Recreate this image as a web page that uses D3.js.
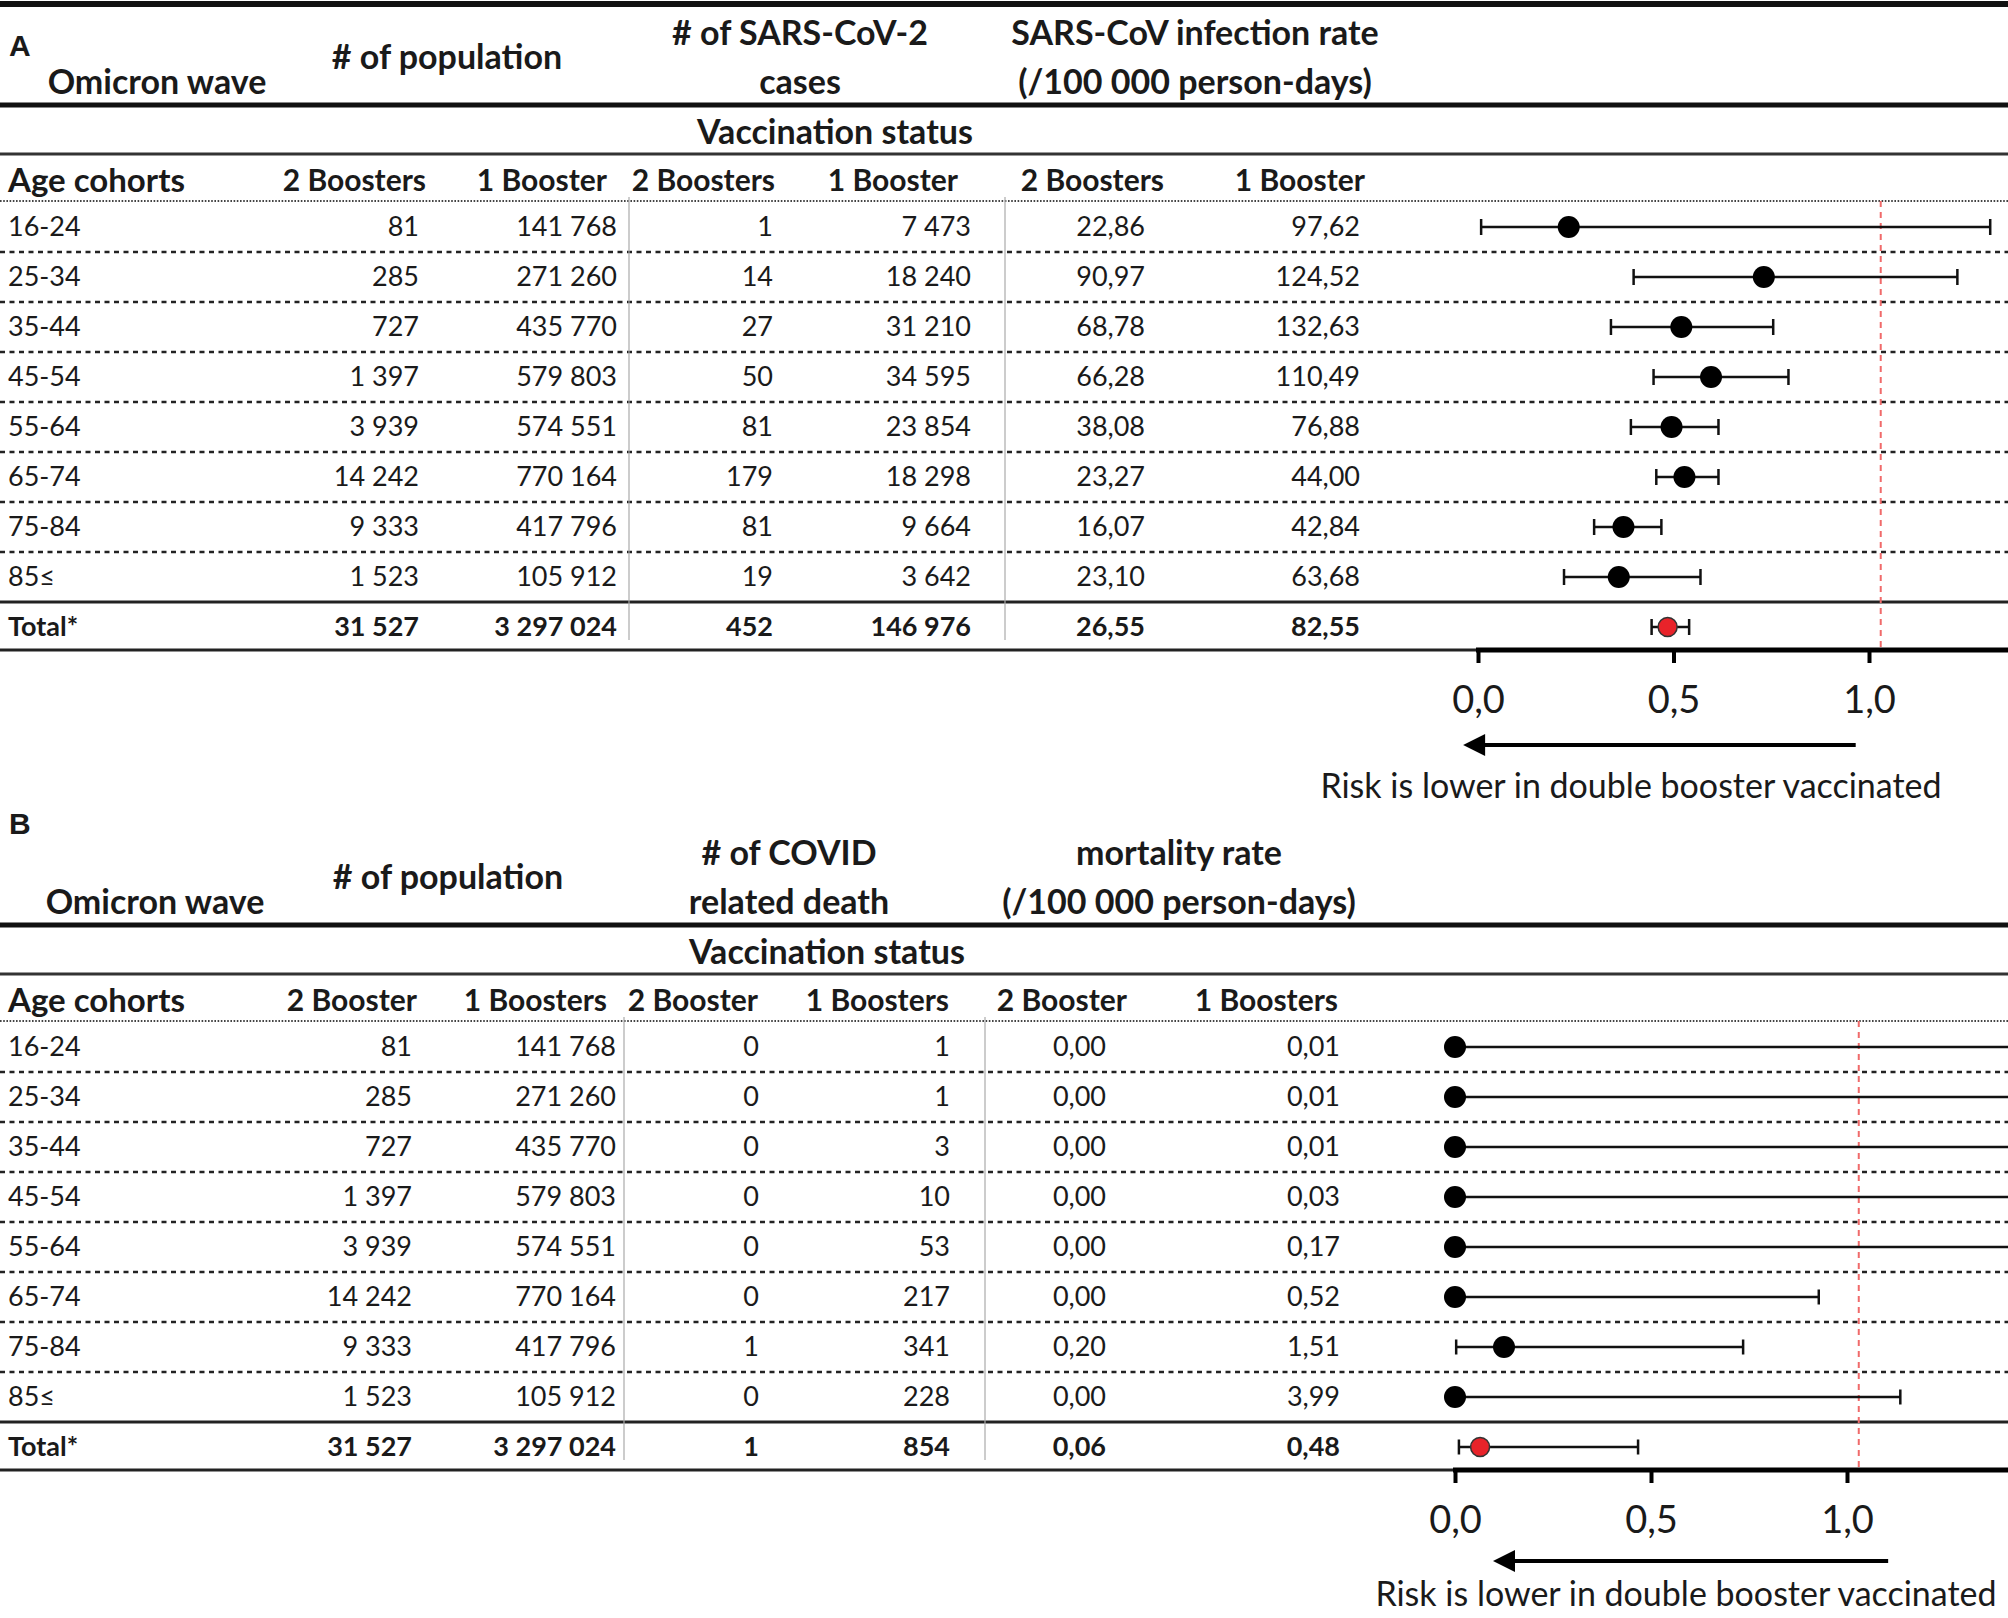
<!DOCTYPE html>
<html><head><meta charset="utf-8">
<script src="https://cdn.jsdelivr.net/npm/d3@7"></script>
<style>
html,body{margin:0;padding:0;background:#fff;}
svg{display:block;}
text{font-family:Lato,"Open Sans",sans-serif;fill:#1a1a1a;}
</style></head><body>
<svg id="chart" width="2008" height="1618"></svg>
<script>
// ---------------- DATA ----------------
const ageCohorts = ["16-24","25-34","35-44","45-54","55-64","65-74","75-84","85≤"];
const totalLabel = "Total*";

// Panel A – infections
const popTwoBoosters = [81,285,727,1397,3939,14242,9333,1523];
const popTwoBoostersTotal = 31527;
const popOneBooster = [141768,271260,435770,579803,574551,770164,417796,105912];
const popOneBoosterTotal = 3297024;
const casesTwoBoosters = [1,14,27,50,81,179,81,19];
const casesTwoBoostersTotal = 452;
const casesOneBooster = [7473,18240,31210,34595,23854,18298,9664,3642];
const casesOneBoosterTotal = 146976;
const infRateTwoBoosters = [22.86,90.97,68.78,66.28,38.08,23.27,16.07,23.10];
const infRateTwoBoostersTotal = 26.55;
const infRateOneBooster = [97.62,124.52,132.63,110.49,76.88,44.00,42.84,63.68];
const infRateOneBoosterTotal = 82.55;
const infEstimate = [0.232,0.731,0.520,0.596,0.495,0.528,0.372,0.360];
const infLower    = [0.008,0.398,0.340,0.449,0.391,0.456,0.297,0.220];
const infUpper    = [1.310,1.226,0.755,0.794,0.615,0.615,0.469,0.569];
const infTotal = {est:0.485, lo:0.444, hi:0.540};

// Panel B – deaths
const deathsTwoBoosters = [0,0,0,0,0,0,1,0];
const deathsTwoBoostersTotal = 1;
const deathsOneBooster = [1,1,3,10,53,217,341,228];
const deathsOneBoosterTotal = 854;
const mortTwoBoosters = [0,0,0,0,0,0,0.20,0];
const mortTwoBoostersTotal = 0.06;
const mortOneBooster = [0.01,0.01,0.01,0.03,0.17,0.52,1.51,3.99];
const mortOneBoosterTotal = 0.48;
const mortEstimate = [0,0,0,0,0,0,0.125,0];
const mortLower    = [0,0,0,0,0,0,0.003,0];
const mortUpper    = [2.5,2.5,2.5,2.5,2.5,0.928,0.735,1.136];
const mortTotal = {est:0.064, lo:0.010, hi:0.467};

const axisTicks = [0,0.5,1.0];
const referenceValue = 1.03;

// ---------------- HELPERS ----------------
const loc = d3.formatLocale({decimal:",", thousands:" ", grouping:[3], currency:["",""]});
const fmtInt = loc.format(",d");
const fmtDec = loc.format(",.2f");
const fmtTick = loc.format(".1f");

const svg = d3.select("#chart");

function panel(cfg){
  const g = svg.append("g").attr("transform",`translate(0,${cfg.dy})`);
  const W = 2008;
  const rowsAll = ageCohorts.concat([totalLabel]);
  const y = d3.scalePoint().domain(rowsAll).range([227,627]);
  const x = d3.scaleLinear().domain([0,1]).range(cfg.xRange);

  // panel letter
  g.append("text").attr("x",9).attr("y",cfg.letterY).attr("dy","0.35em")
    .style("font-family","'Liberation Sans',Arial,sans-serif").style("font-weight","bold")
    .style("font-size","30px").text(cfg.letter);

  if(cfg.topLine) g.append("line").attr("x1",0).attr("x2",W).attr("y1",4).attr("y2",4)
    .attr("stroke","#111").attr("stroke-width",6);

  // top headers
  cfg.topHeaders.forEach(h=>{
    h.lines.forEach((t,i)=>{
      g.append("text").attr("x",h.cx).attr("y",h.ys[i]).attr("dy","0.35em")
       .attr("text-anchor","middle").style("font-weight","bold").style("font-size","34px").text(t);
    });
  });
  g.append("line").attr("x1",0).attr("x2",W).attr("y1",105).attr("y2",105).attr("stroke","#111").attr("stroke-width",5);
  g.append("text").attr("x",cfg.vaccCx).attr("y",132).attr("dy","0.35em").attr("text-anchor","middle")
    .style("font-weight","bold").style("font-size","34px").text("Vaccination status");
  g.append("line").attr("x1",0).attr("x2",W).attr("y1",154).attr("y2",154).attr("stroke","#333").attr("stroke-width",3);

  // sub headers
  g.append("text").attr("x",8).attr("y",180).attr("dy","0.35em").style("font-weight","bold")
    .style("font-size","33px").text("Age cohorts");
  cfg.subHeaders.forEach((t,i)=>{
    g.append("text").attr("x",cfg.subHeaderRight[i]).attr("y",180).attr("dy","0.35em")
     .attr("text-anchor","end").style("font-weight","bold").style("font-size","30px").text(t);
  });
  g.append("line").attr("x1",0).attr("x2",W).attr("y1",201).attr("y2",201)
    .attr("stroke","#444").attr("stroke-width",2).attr("stroke-dasharray","1.6,1.6");

  // row separators
  const seps = d3.range(ageCohorts.length-1).map(i=>(y(ageCohorts[i])+y(ageCohorts[i+1]))/2);
  g.selectAll(".sep").data(seps).enter().append("line")
    .attr("x1",0).attr("x2",W).attr("y1",d=>d).attr("y2",d=>d)
    .attr("stroke","#222").attr("stroke-width",2.5).attr("stroke-dasharray","5,4.5");
  const preTotal = (y(ageCohorts[ageCohorts.length-1])+y(totalLabel))/2;
  g.append("line").attr("x1",0).attr("x2",W).attr("y1",preTotal).attr("y2",preTotal).attr("stroke","#222").attr("stroke-width",3);
  const bottom = y(totalLabel)+23;
  g.append("line").attr("x1",0).attr("x2",W).attr("y1",bottom).attr("y2",bottom).attr("stroke","#222").attr("stroke-width",3);

  // vertical separators
  cfg.vlines.forEach(vx=>{
    g.append("line").attr("x1",vx).attr("x2",vx).attr("y1",197).attr("y2",bottom-10)
      .attr("stroke","#aaa").attr("stroke-width",1.2);
  });

  // table cells
  rowsAll.forEach((r,ri)=>{
    const isTot = r===totalLabel;
    g.append("text").attr("x",8).attr("y",y(r)).attr("dy","0.35em")
      .style("font-size","27px").style("font-weight",isTot?"bold":"normal").text(r);
    cfg.columns.forEach((col,ci)=>{
      const v = isTot ? col.total : col.values[ri];
      g.append("text").attr("x",cfg.colRight[ci]).attr("y",y(r)).attr("dy","0.35em")
        .attr("text-anchor","end").style("font-size","27px").style("font-weight",isTot?"bold":"normal")
        .text(col.fmt(v));
    });
  });

  // reference line
  g.append("line").attr("x1",x(referenceValue)).attr("x2",x(referenceValue))
    .attr("y1",201).attr("y2",bottom).attr("stroke","#f06a6a").attr("stroke-width",2).attr("stroke-dasharray","6,5");

  // forest plot
  const pts = ageCohorts.map((a,i)=>({row:a, est:cfg.est[i], lo:cfg.lo[i], hi:cfg.hi[i], tot:false}))
    .concat([{row:totalLabel, est:cfg.total.est, lo:cfg.total.lo, hi:cfg.total.hi, tot:true}]);
  const fg = g.append("g");
  fg.selectAll(".ci").data(pts).enter().append("line")
    .attr("x1",d=>x(d.lo)).attr("x2",d=>x(d.hi)).attr("y1",d=>y(d.row)).attr("y2",d=>y(d.row))
    .attr("stroke","#111").attr("stroke-width",2.5);
  ["lo","hi"].forEach(k=>{
    fg.selectAll(".cap"+k).data(pts).enter().append("line")
      .attr("x1",d=>x(d[k])).attr("x2",d=>x(d[k]))
      .attr("y1",d=>y(d.row)-cfg.capH).attr("y2",d=>y(d.row)+cfg.capH)
      .attr("stroke","#111").attr("stroke-width",2.5);
  });
  fg.selectAll(".pt").data(pts).enter().append("circle")
    .attr("cx",d=>x(d.est)).attr("cy",d=>y(d.row)).attr("r",d=>d.tot?9.5:11)
    .attr("fill",d=>d.tot?"#e8232a":"#000").attr("stroke",d=>d.tot?"#333":"none").attr("stroke-width",1.5);

  // axis
  g.append("line").attr("x1",x(0)-2).attr("x2",W).attr("y1",bottom).attr("y2",bottom)
    .attr("stroke","#000").attr("stroke-width",5);
  const axis = d3.axisBottom(x).tickValues(axisTicks).tickSize(13).tickPadding(23).tickFormat(d=>fmtTick(d));
  const ag = g.append("g").attr("transform",`translate(0,${bottom})`).call(axis);
  ag.select(".domain").remove();
  ag.selectAll(".tick line").attr("stroke","#000").attr("stroke-width",4);
  ag.selectAll(".tick text").style("font-family","Lato,sans-serif").style("font-size","38px").attr("fill","#222");

  // arrow
  const ay = cfg.arrowY;
  g.append("line").attr("x1",x(cfg.arrow[0])).attr("x2",x(cfg.arrow[1])+18).attr("y1",ay).attr("y2",ay)
    .attr("stroke","#000").attr("stroke-width",4);
  const tip = x(cfg.arrow[1]);
  g.append("path").attr("d",`M${tip},${ay} L${tip+22},${ay-11} L${tip+22},${ay+11} Z`).attr("fill","#000");
  g.append("text").attr("x",cfg.riskCx).attr("y",cfg.riskY).attr("dy","0.35em").attr("text-anchor","middle")
    .style("font-size","34px").text("Risk is lower in double booster vaccinated");
}

panel({
  dy:0, letter:"A", letterY:45, topLine:true,
  topHeaders:[
    {cx:157, ys:[82], lines:["Omicron wave"]},
    {cx:447, ys:[57], lines:["# of population"]},
    {cx:800, ys:[33,82], lines:["# of  SARS-CoV-2","cases"]},
    {cx:1195, ys:[33,82], lines:["SARS-CoV infection rate","(/100 000 person-days)"]}
  ],
  vaccCx:835,
  subHeaders:["2 Boosters","1 Booster","2 Boosters","1 Booster","2 Boosters","1 Booster"],
  subHeaderRight:[426,607,775,958,1164,1365],
  colRight:[419,617,773,971,1145,1360],
  vlines:[629,1005],
  columns:[
    {values:popTwoBoosters,total:popTwoBoostersTotal,fmt:fmtInt},
    {values:popOneBooster,total:popOneBoosterTotal,fmt:fmtInt},
    {values:casesTwoBoosters,total:casesTwoBoostersTotal,fmt:fmtInt},
    {values:casesOneBooster,total:casesOneBoosterTotal,fmt:fmtInt},
    {values:infRateTwoBoosters,total:infRateTwoBoostersTotal,fmt:fmtDec},
    {values:infRateOneBooster,total:infRateOneBoosterTotal,fmt:fmtDec}
  ],
  xRange:[1478,1869],
  est:infEstimate, lo:infLower, hi:infUpper, total:infTotal, capH:8,
  arrow:[0.966,-0.038], arrowY:745, riskCx:1631, riskY:786
});

panel({
  dy:820, letter:"B", letterY:3, topLine:false,
  topHeaders:[
    {cx:155, ys:[82], lines:["Omicron wave"]},
    {cx:448, ys:[57], lines:["# of population"]},
    {cx:789, ys:[33,82], lines:["# of COVID","related death"]},
    {cx:1179, ys:[33,82], lines:["mortality rate","(/100 000 person-days)"]}
  ],
  vaccCx:827,
  subHeaders:["2 Booster","1 Boosters","2 Booster","1 Boosters","2 Booster","1 Boosters"],
  subHeaderRight:[417,607,758,949,1127,1338],
  colRight:[412,616,759,950,1106,1340],
  vlines:[624,985],
  columns:[
    {values:popTwoBoosters,total:popTwoBoostersTotal,fmt:fmtInt},
    {values:popOneBooster,total:popOneBoosterTotal,fmt:fmtInt},
    {values:deathsTwoBoosters,total:deathsTwoBoostersTotal,fmt:fmtInt},
    {values:deathsOneBooster,total:deathsOneBoosterTotal,fmt:fmtInt},
    {values:mortTwoBoosters,total:mortTwoBoostersTotal,fmt:fmtDec},
    {values:mortOneBooster,total:mortOneBoosterTotal,fmt:fmtDec}
  ],
  xRange:[1455,1847],
  est:mortEstimate, lo:mortLower, hi:mortUpper, total:mortTotal, capH:7.5,
  arrow:[1.105,0.097], arrowY:741, riskCx:1686, riskY:774
});
</script>
</body></html>
